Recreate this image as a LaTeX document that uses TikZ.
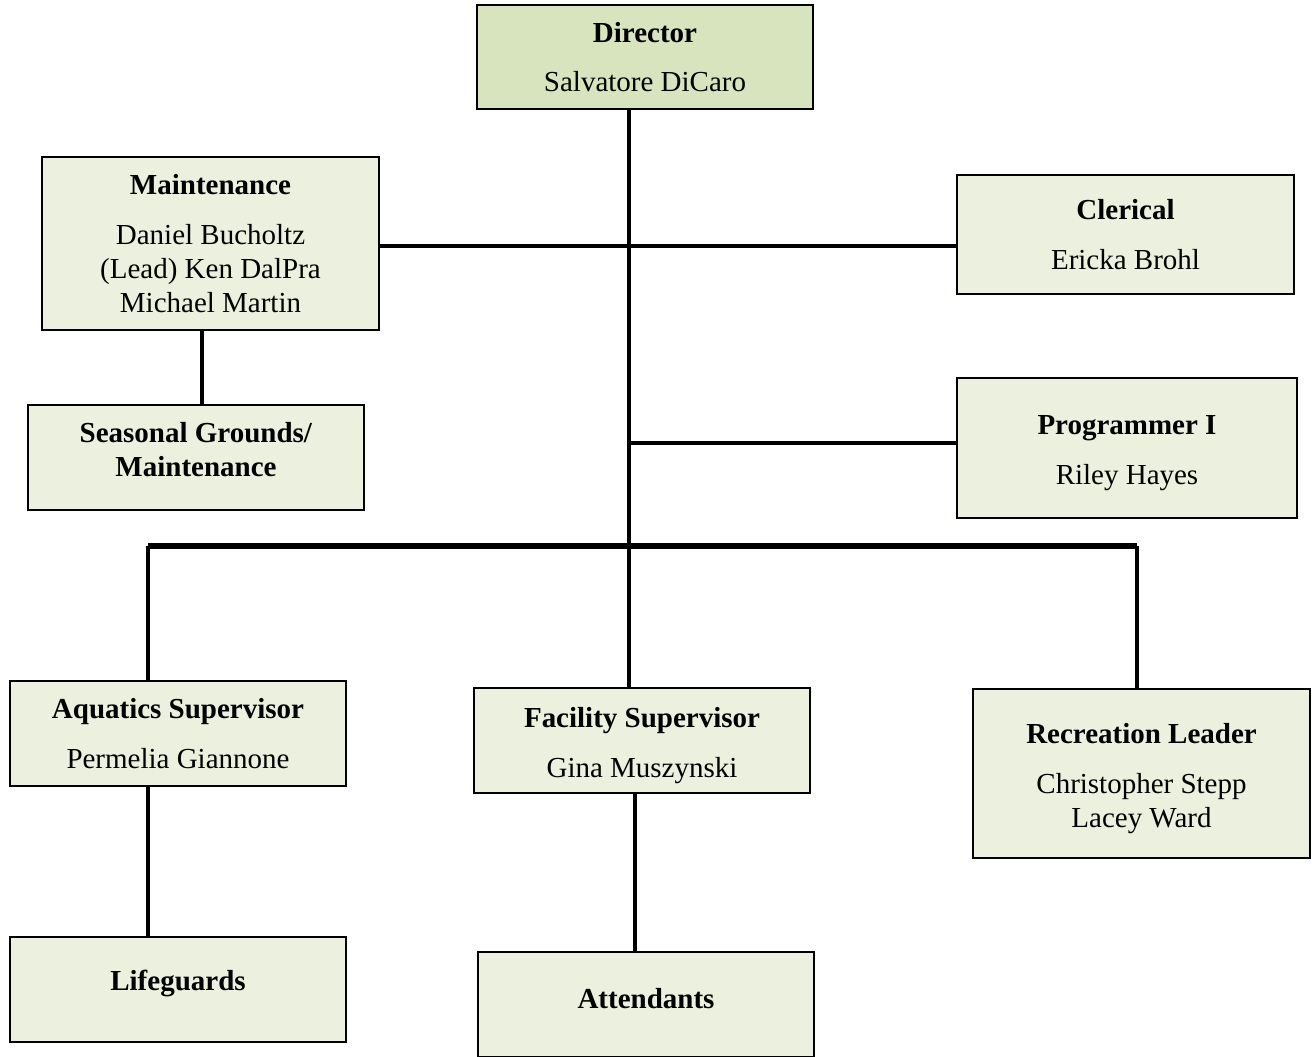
\documentclass[tikz,border=0pt]{standalone}
\usepackage{fontspec}
\setmainfont{Liberation Serif}
\usepackage{tikz}
\usetikzlibrary{positioning}

\definecolor{headgreen}{HTML}{D7E4BD}
\definecolor{boxgreen}{HTML}{EBF1DE}

\begin{document}
\begin{tikzpicture}[x=0.02cm, y=-0.02cm,
    unit/.style={draw=black, line width=1.1pt, fill=boxgreen, inner sep=0pt, align=center,
      minimum width=6.72cm, minimum height=2.1cm, font=\fontsize{16.5}{19.3}\selectfont},
    link/.style={line width=2.8pt}]
        \useasboundingbox (0,0) rectangle (1316,1057);

        % Top of the chart
        \node[unit, fill=headgreen, minimum height=2.08cm] (dir) at (645,57) {\textbf{Director}\\[9pt]Salvatore DiCaro};

        % Left branch
        \node[unit, minimum width=6.74cm, minimum height=3.46cm] (mnt) at (210.5,243.5) {\textbf{Maintenance}\\[9pt]Daniel Bucholtz\\(Lead) Ken DalPra\\Michael Martin};
        \node[unit] (sea) at (196,457.5) {\textbf{Seasonal Grounds/}\\\textbf{Maintenance}\\[-10pt]\mbox{}};

        % Right branch
        \node[unit, minimum width=6.74cm, minimum height=2.38cm] (cler) at (1125.5,234.5) {\textbf{Clerical}\\[9pt]Ericka Brohl};
        \node[unit, minimum width=6.8cm, minimum height=2.8cm] (prog) at (1127,448) {\rule{0pt}{17pt}\textbf{Programmer I}\\[9pt]Riley Hayes};

        % Supervisors
        \node[unit] (aq) at (178,733.5) {\textbf{Aquatics Supervisor}\\[9pt]Permelia Giannone};
        \node[unit] (fac) at (642,740.5) {\rule{0pt}{17pt}\textbf{Facility Supervisor}\\[9pt]Gina Muszynski};
        \node[unit, minimum width=6.74cm, minimum height=3.38cm] (rec) at (1141.5,773.5) {\rule{0pt}{17pt}\textbf{Recreation Leader}\\[9pt]Christopher Stepp\\Lacey Ward};

        % Staff
        \node[unit] (life) at (178,989.5) {\textbf{Lifeguards}\\[-9pt]\mbox{}};
        \node[unit] (att) at (646,1004.5) {\textbf{Attendants}\\[-12pt]\mbox{}};

        % Connectors
        \coordinate (trunk) at (629,546);
        \coordinate (busL) at (148,546);
        \coordinate (busR) at (1137,546);
        \coordinate (sdrop) at (202,368);
        \coordinate (adrop) at (635,870);

        \draw[link] (dir.south -| trunk) -- (fac.north -| trunk);
        \draw[link] ([yshift=-0.05cm]mnt.east) -- ([yshift=-0.05cm]mnt.east -| cler.west);
        \draw[link] ([yshift=0.1cm]trunk |- prog.west) -- ([yshift=0.1cm]prog.west);
        \draw[link] (sdrop |- mnt.south) -- (sdrop |- sea.north);
        \draw[link, line width=3.4pt] (busL) -- (busR);
        \draw[link] (busL) -- (busL |- aq.north);
        \draw[link] (busR) -- (busR |- rec.north);
        \draw[link] (busL |- aq.south) -- (busL |- life.north);
        \draw[link] (adrop |- fac.south) -- (adrop |- att.north);

    \end{tikzpicture}
\end{document}
